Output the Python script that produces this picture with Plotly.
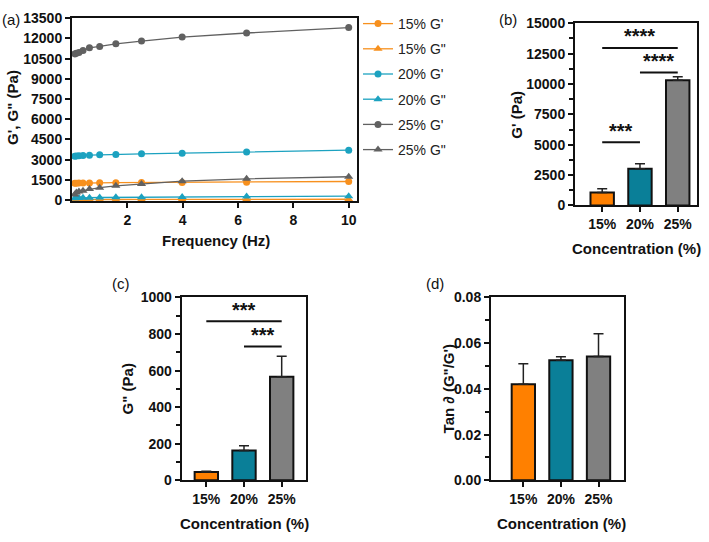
import plotly.graph_objects as go

W, H = 709, 542
FONT = "Liberation Sans, Arial, Helvetica, sans-serif"

# ---------------- data ----------------
freq = [0.1, 0.158, 0.251, 0.398, 0.631, 1.0, 1.585, 2.512, 3.981, 6.31, 10.0]
g1_15 = [1250, 1255, 1260, 1265, 1270, 1280, 1290, 1300, 1310, 1330, 1380]
g2_15 = [30, 32, 34, 36, 38, 40, 43, 46, 50, 55, 60]
g1_20 = [3250, 3270, 3290, 3310, 3330, 3360, 3390, 3430, 3480, 3560, 3700]
g2_20 = [140, 150, 160, 170, 180, 190, 200, 215, 235, 260, 290]
g1_25 = [10850, 10900, 10950, 11100, 11300, 11400, 11600, 11800, 12100, 12400, 12800]
g2_25 = [420, 560, 640, 700, 820, 920, 1060, 1200, 1400, 1580, 1730]

conc = ["15%", "20%", "25%"]
gp_mean = [1060, 3030, 10300]
gp_err = [320, 400, 290]
gpp_mean = [45, 163, 566]
gpp_err = [5, 26, 112]
tan_mean = [0.0420, 0.0525, 0.0542]
tan_err = [0.0090, 0.0016, 0.0099]

# significance brackets: (from category, to category, line y, text y, label)
sig_b = [(0, 2, 12960, 13950, "****"), (1, 2, 10940, 11900, "****"), (0, 1, 5200, 6150, "***")]
sig_c = [(0, 2, 870, 933, "***"), (1, 2, 732, 795, "***")]

line_colors = {"15": "#F7901E", "20": "#1CA2C0", "25": "#616161"}
bar_colors = ["#FF8000", "#0A7F98", "#808080"]

fig = go.Figure()

series = [
    ("15% G'", g1_15, "15", "circle"),
    ('15% G"', g2_15, "15", "triangle-up"),
    ("20% G'", g1_20, "20", "circle"),
    ('20% G"', g2_20, "20", "triangle-up"),
    ("25% G'", g1_25, "25", "circle"),
    ('25% G"', g2_25, "25", "triangle-up"),
]
for i, (name, vals, key, sym) in enumerate(series):
    fig.add_trace(go.Scatter(
        x=freq, y=vals, name=name, mode="lines+markers",
        line=dict(color=line_colors[key], width=1.3),
        marker=dict(symbol=sym, size=7 if sym == "circle" else 8, color=line_colors[key]),
        xaxis="x", yaxis="y", legendgroup=f"g{i}",
    ))

def bars(means, errs, xa, ya):
    fig.add_trace(go.Bar(
        x=conc, y=means, xaxis=xa, yaxis=ya, showlegend=False, width=0.62,
        marker=dict(color=bar_colors, line=dict(color="#111111", width=2)),
        error_y=dict(type="data", array=errs, arrayminus=[0] * len(errs), symmetric=False,
                     color="#222222", thickness=1.5, width=5),
    ))

bars(gp_mean, gp_err, "x2", "y2")
bars(gpp_mean, gpp_err, "x3", "y3")
bars(tan_mean, tan_err, "x4", "y4")

def px(x, y):
    return x / W, 1 - y / H

def dom_x(a, b):
    return [a / W, b / W]

def dom_y(top, bottom):
    return [1 - bottom / H, 1 - top / H]

tickfont = dict(family=FONT, size=14, color="#111111", weight="bold")
axis_common = dict(showline=True, linewidth=2, linecolor="#111111", mirror=True,
                   ticks="outside", ticklen=5, tickwidth=2, tickcolor="#111111",
                   showgrid=False, zeroline=False, tickfont=tickfont, fixedrange=True)
minor = dict(ticks="outside", ticklen=4, tickwidth=2, tickcolor="#111111")

fig.update_layout(
    width=W, height=H, margin=dict(l=0, r=0, t=0, b=0), autosize=False,
    paper_bgcolor="white", plot_bgcolor="white", bargap=0.3,
    font=dict(family=FONT, color="#111111"),
    xaxis=dict(domain=dom_x(72, 357), range=[0, 10.3], tickvals=[2, 4, 6, 8, 10], anchor="y", **axis_common),
    yaxis=dict(domain=dom_y(10.5, 199.3), range=[-100, 13500], dtick=1500, tick0=0, tickformat="d",
               anchor="x", **axis_common),
    xaxis2=dict(domain=dom_x(575, 697), range=[-0.72, 2.51], anchor="y2", type="category", **axis_common),
    yaxis2=dict(domain=dom_y(15.7, 203.5), range=[0, 15000], dtick=2500, tickformat="d", anchor="x2",
                minor=dict(dtick=1250, **minor), **axis_common),
    xaxis3=dict(domain=dom_x(181.7, 305.7), range=[-0.653, 2.637], anchor="y3", type="category", **axis_common),
    yaxis3=dict(domain=dom_y(298.3, 486.7), range=[0, 1000], dtick=200, tickformat="d", anchor="x3",
                minor=dict(dtick=100, **minor), **axis_common),
    xaxis4=dict(domain=dom_x(491, 624.3), range=[-0.86, 2.686], anchor="y4", type="category", **axis_common),
    yaxis4=dict(domain=dom_y(298.3, 486.7), range=[0, 0.08], dtick=0.02, tickformat=".2f", anchor="x4",
                minor=dict(dtick=0.01, **minor), **axis_common),
    legend=dict(x=358 / W, y=1.0, xanchor="left", yanchor="top",
                font=dict(family=FONT, size=14, color="#222222"),
                bgcolor="rgba(0,0,0,0)", tracegroupgap=4, itemwidth=30),
)

shapes = []
annotations = []
for (a, b, ly, ty, lab) in sig_b:
    shapes.append(dict(type="line", xref="x2", yref="y2", x0=a, x1=b, y0=ly, y1=ly,
                       line=dict(color="#111111", width=2)))
    annotations.append(dict(xref="x2", yref="y2", x=(a + b) / 2, y=ty, text=f"<b>{lab}</b>",
                            showarrow=False, font=dict(size=20, family=FONT, color="#111111"), yanchor="middle"))
for (a, b, ly, ty, lab) in sig_c:
    shapes.append(dict(type="line", xref="x3", yref="y3", x0=a, x1=b, y0=ly, y1=ly,
                       line=dict(color="#111111", width=2)))
    annotations.append(dict(xref="x3", yref="y3", x=(a + b) / 2, y=ty, text=f"<b>{lab}</b>",
                            showarrow=False, font=dict(size=20, family=FONT, color="#111111"), yanchor="middle"))

def label(text, x, y, size=15, bold=True, angle=0):
    xx, yy = px(x, y)
    annotations.append(dict(xref="paper", yref="paper", x=xx, y=yy, text=f"<b>{text}</b>" if bold else text,
                            showarrow=False, textangle=angle, xanchor="center", yanchor="middle",
                            font=dict(size=size, family=FONT, color="#111111")))

# panel letters
label("(a)", 11, 12, size=15, bold=False)
label("(b)", 508, 12, size=15, bold=False)
label("(c)", 121, 284, size=15, bold=False)
label("(d)", 435, 284, size=15, bold=False)
# axis titles
label("Frequency (Hz)", 216, 240)
label("G', G\" (Pa)", 13, 103, angle=-90)
label("G' (Pa)", 517, 110, angle=-90)
label("Concentration (%)", 636, 248)
label("G\" (Pa)", 127, 393, angle=-90)
label("Concentration (%)", 244, 531)
label("Tan ∂ (G\"/G')", 448, 393, angle=-90)
label("Concentration (%)", 561, 531)

fig.update_layout(shapes=shapes, annotations=annotations)
fig.write_html("out.html", config={"displayModeBar": False},
               post_script="document.body.style.margin='0';document.body.style.overflow='hidden';")
